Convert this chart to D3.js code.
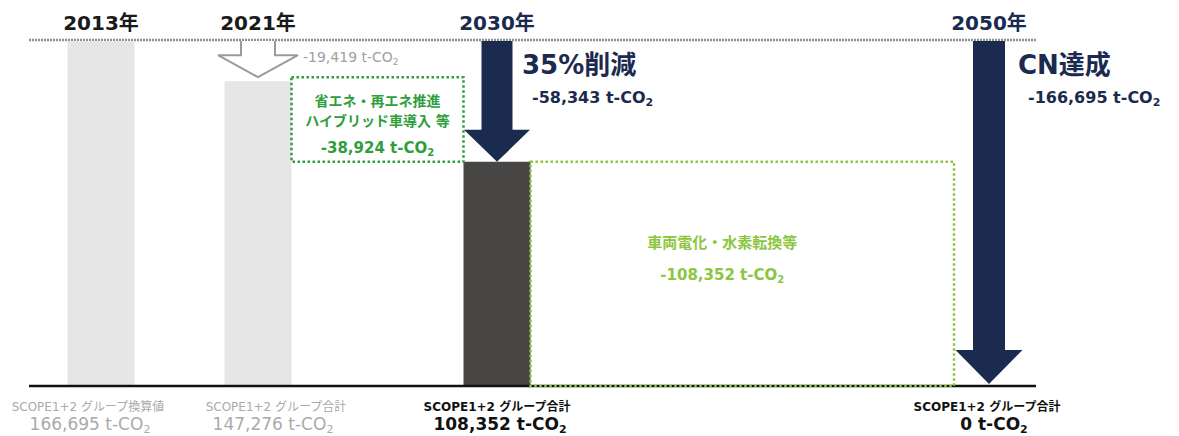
<!DOCTYPE html>
<html>
<head>
<meta charset="utf-8">
<script src="https://cdn.jsdelivr.net/npm/d3@7"></script>
<style>
  body { margin:0; background:#fff; }
  text { font-family: "DejaVu Sans", "Noto Sans CJK JP", sans-serif; }
</style>
</head>
<body>
<svg id="chart" width="1179" height="436"></svg>
<script>
//----------- DATA ---------------------------//
var years      = ["2013年", "2021年", "2030年", "2050年"];
var totals     = [166695, 147276, 108352, 0];
var scopeNames = ["SCOPE1+2 グループ換算値", "SCOPE1+2 グループ合計", "SCOPE1+2 グループ合計", "SCOPE1+2 グループ合計"];
var cuts       = [-19419, -38924, -58343, -108352, -166695];
var cutNotes   = ["", "省エネ・再エネ推進|ハイブリッド車導入 等", "35%削減", "車両電化・水素転換等", "CN達成"];

var svg = d3.select("#chart");
var navy = "#1b2a4f", grn1 = "#2f9e3c", grn2 = "#8cc63f";
// plain hyphen for the minus sign
var fmt = d3.formatLocale({decimal: ".", thousands: ",", grouping: [3], currency: ["", ""], minus: "-"}).format(",");

// scales
var x = d3.scaleOrdinal().domain(years).range([101, 258, 497, 989]);
var y = d3.scaleLinear().domain([0, totals[0]]).range([386, 41]);
var bw = 67;
// bottom label nudges (layout only)
var nameShift  = [-13, 18, 0, -2];
var valueShift = [-11, 15, 3, 5];

function co2(sel, v, subSize) {
  // number + " t-CO" + subscript 2
  sel.append("tspan").text(v + " t-CO");
  sel.append("tspan").attr("dy", 3).style("font-size", subSize + "px").text("2");
}

//----------- TOP LINE ---------------------------//
svg.append("line")
  .attr("x1", 29).attr("x2", 1036)
  .attr("y1", y(totals[0]) - 1).attr("y2", y(totals[0]) - 1)
  .style("stroke", "#8f8f8f").style("stroke-width", 2.5)
  .style("stroke-dasharray", "2,1");

//----------- BARS ---------------------------//
var barCol = ["#e6e6e6", "#e6e6e6", "#484644", "#484644"];
svg.append("g").selectAll("rect")
  .data(years)
  .enter().append("rect")
  .attr("x", function(d) { return x(d) - bw/2; })
  .attr("y", function(d, i) { return y(totals[i]); })
  .attr("width", bw)
  .attr("height", function(d, i) { return y(0) - y(totals[i]); })
  .style("fill", function(d, i) { return barCol[i]; });

svg.append("line")
  .attr("x1", 29).attr("x2", 1036)
  .attr("y1", y(0)).attr("y2", y(0))
  .style("stroke", "#111").style("stroke-width", 2.5);

//----------- GREEN DOTTED BOXES ---------------------------//
// box 1 : between 2021 bar and 2030 bar
var b1x0 = x(years[1]) + bw/2, b1x1 = x(years[2]) - bw/2;
svg.append("rect")
  .attr("x", b1x0).attr("y", y(totals[1]) - 4)
  .attr("width", b1x1 - b1x0).attr("height", y(totals[2]) - y(totals[1]) + 4)
  .style("fill", "none").style("stroke", grn1).style("stroke-width", 2.5)
  .style("stroke-dasharray", "2.5,2.5");

// box 2 : after 2030 bar down to 0
var b2x0 = x(years[2]) + bw/2, b2x1 = x(years[3]) - 35;
svg.append("rect")
  .attr("x", b2x0).attr("y", y(totals[2]))
  .attr("width", b2x1 - b2x0).attr("height", y(0) - y(totals[2]))
  .style("fill", "none").style("stroke", grn2).style("stroke-width", 2.5)
  .style("stroke-dasharray", "2.5,2.5");

//----------- ARROWS ---------------------------//
function arrowPath(cx, y0, y1, shaftW, headW, headH) {
  return d3.line()([
    [cx - shaftW/2, y0], [cx - shaftW/2, y1 - headH], [cx - headW/2, y1 - headH],
    [cx, y1], [cx + headW/2, y1 - headH], [cx + shaftW/2, y1 - headH], [cx + shaftW/2, y0]
  ]);
}
// hollow gray arrow (2013 -> 2021)
svg.append("path")
  .attr("d", arrowPath(x(years[1]), y(totals[0]), y(totals[1]) - 4, 34, 80, 22))
  .style("fill", "#fff").style("stroke", "#9a9a9a").style("stroke-width", 2);
// navy arrows
svg.append("path")
  .attr("d", arrowPath(x(years[2]), y(totals[0]), y(totals[2]), 31, 66, 32) + "Z")
  .style("fill", navy);
svg.append("path")
  .attr("d", arrowPath(x(years[3]), y(totals[0]), y(totals[3]) - 2, 32, 67, 34) + "Z")
  .style("fill", navy);

//----------- YEAR LABELS ---------------------------//
svg.append("g").selectAll("text")
  .data(years)
  .enter().append("text")
  .attr("x", function(d) { return x(d); })
  .attr("y", 30)
  .style("text-anchor", "middle")
  .style("font-size", "20px").style("font-weight", "bold")
  .style("fill", function(d, i) { return i < 2 ? "#1a1a1a" : navy; })
  .text(function(d) { return d; });

//----------- BOTTOM LABELS ---------------------------//
var bottomCol = ["#aaaaaa", "#aaaaaa", "#111", "#111"];
var bl = svg.append("g").selectAll("g")
  .data(years).enter().append("g");
bl.append("text")
  .attr("x", function(d, i) { return x(d) + nameShift[i]; })
  .attr("y", 411)
  .style("text-anchor", "middle")
  .style("font-size", "12px")
  .style("font-weight", function(d, i) { return i < 2 ? "normal" : "bold"; })
  .style("fill", function(d, i) { return bottomCol[i]; })
  .text(function(d, i) { return scopeNames[i]; });
bl.append("text")
  .attr("x", function(d, i) { return x(d) + valueShift[i]; })
  .attr("y", 430)
  .style("text-anchor", "middle")
  .style("font-size", "17px")
  .style("font-weight", function(d, i) { return i < 2 ? "normal" : "bold"; })
  .style("fill", function(d, i) { return bottomCol[i]; })
  .each(function(d, i) { co2(d3.select(this), fmt(totals[i]), 11); });

//----------- REDUCTION LABELS ---------------------------//
// -19,419 (gray)
svg.append("text")
  .attr("x", x(years[1]) + 45).attr("y", 62)
  .style("font-size", "14px").style("fill", "#a0a0a0")
  .call(co2, fmt(cuts[0]), 9);

// box 1 text
var b1c = (b1x0 + b1x1) / 2;
cutNotes[1].split("|").forEach(function(s, k) {
  svg.append("text")
    .attr("x", b1c).attr("y", 106 + k * 20)
    .style("text-anchor", "middle")
    .style("font-size", "14px").style("font-weight", "bold").style("fill", grn1)
    .text(s);
});
svg.append("text")
  .attr("x", b1c).attr("y", 153)
  .style("text-anchor", "middle")
  .style("font-size", "15px").style("font-weight", "bold").style("fill", grn1)
  .call(co2, fmt(cuts[1]), 10);

// 35%削減
svg.append("text")
  .attr("x", x(years[2]) + 25).attr("y", 74)
  .style("font-size", "26px").style("font-weight", "bold").style("fill", navy)
  .text(cutNotes[2]);
svg.append("text")
  .attr("x", x(years[2]) + 35).attr("y", 103)
  .style("font-size", "16px").style("font-weight", "bold").style("fill", navy)
  .call(co2, fmt(cuts[2]), 11);

// box 2 text
var b2c = (b2x0 + b2x1) / 2;
svg.append("text")
  .attr("x", b2c - 20).attr("y", 248)
  .style("text-anchor", "middle")
  .style("font-size", "15px").style("font-weight", "bold").style("fill", grn2)
  .text(cutNotes[3]);
svg.append("text")
  .attr("x", b2c - 20).attr("y", 280)
  .style("text-anchor", "middle")
  .style("font-size", "15px").style("font-weight", "bold").style("fill", grn2)
  .call(co2, fmt(cuts[3]), 10);

// CN達成
svg.append("text")
  .attr("x", x(years[3]) + 29).attr("y", 74)
  .style("font-size", "26px").style("font-weight", "bold").style("fill", navy)
  .text(cutNotes[4]);
svg.append("text")
  .attr("x", x(years[3]) + 39).attr("y", 103)
  .style("font-size", "16px").style("font-weight", "bold").style("fill", navy)
  .call(co2, fmt(cuts[4]), 11);
</script>
</body>
</html>
